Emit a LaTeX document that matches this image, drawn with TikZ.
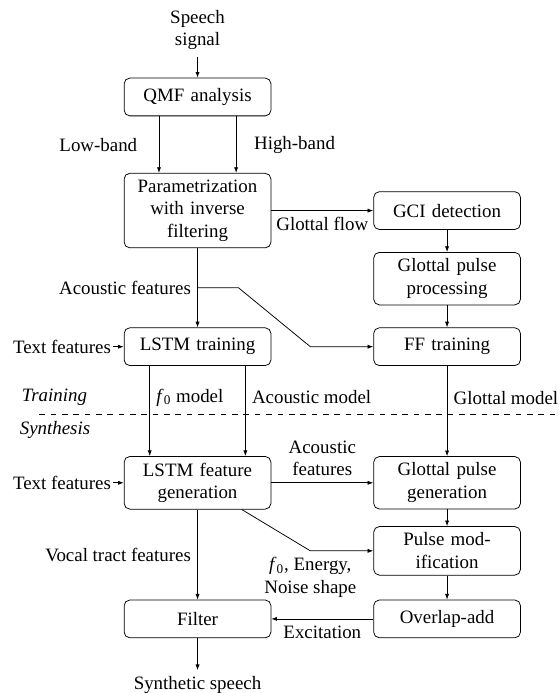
\documentclass[tikz,border=0pt]{standalone}
\usepackage{fontspec}
\setmainfont{Liberation Serif}
\usetikzlibrary{positioning,arrows.meta}

\begin{document}
\begin{tikzpicture}[node distance=72pt and 132pt, on grid, >={Latex[length=3pt,width=2.2pt]},
  block/.style = {draw, rounded corners=3pt, text width=71pt, align=center, minimum height=20pt},
  lbl/.style = {align=center},
  stage/.style = {font=\itshape}]
\useasboundingbox (-104.5pt,51.3pt) rectangle (191.3pt,-315.3pt);
\node[block] (qmf) at (0,0) {QMF analysis};
\node[lbl] (speech) [above=35.4pt of qmf] {Speech\\signal};
\node[block] (param) [below=60.1pt of qmf] {Parametrization\\with inverse\\filtering};
\node[block] (gci) [right=of param] {GCI detection};
\node[block] (gpp) [below=36pt of gci] {Glottal pulse\\processing};
\node[block] (lstmt) [below=of param] {LSTM training};
\node[block] (ff) [right=of lstmt] {FF training};
\node[block] (lstmg) [below=of lstmt] {LSTM feature\\generation};
\node[block] (gpg) [right=of lstmg] {Glottal pulse\\generation};
\node[block] (pmod) [below=36pt of gpg] {Pulse mod-\\ification};
\node[block] (filt) [below=of lstmg] {Filter};
\node[block] (ola) [right=of filt] {Overlap-add};
\node[lbl] (synth) [below=35.2pt of filt] {Synthetic speech};
\node[lbl, inner sep=1pt] (tft) [left=71.7pt of lstmt] {Text features};
\node[lbl, inner sep=1pt] (tfg) [left=71.7pt of lstmg] {Text features};

% training / synthesis border
\coordinate[below left=36pt and 83.7pt of lstmt] (sepL);
\coordinate[right=275pt of sepL] (sepR);
\draw[dashed] (sepL) -- (sepR);
\node[stage] (trn) at ([shift={(8pt,9.3pt)}]sepL) {Training};
\node[stage] (syn) at ([shift={(8.3pt,-7.9pt)}]sepL) {Synthesis};

\draw[->] (speech) -- (qmf);
\draw[->] ([xshift=-20.4pt]qmf.south) -- node[left=8pt] {Low-band} ([xshift=-20.4pt]param.north);
\draw[->] ([xshift=20.4pt]qmf.south) -- node[right=6pt] {High-band} ([xshift=20.4pt]param.north);
\draw[->] (param) -- node[below] {Glottal flow} (gci);
\draw[->] (gci) -- (gpp);
\draw[->] (gpp) -- (ff);
\draw[->] (param.south) -- coordinate[pos=.5] (af) (lstmt.north);
\node[left] (aflbl) at (af) {Acoustic features};
\coordinate[left=33.3pt of ff.west] (ffin);
\draw[->] (af) -- ++(21.7pt,0) -- (ffin) -- (ff.west);
\draw[->] (tft) -- (lstmt);
\draw[->] (tfg) -- (lstmg);
\draw[->] ([xshift=-25.3pt]lstmt.south) -- node[pos=.35, right] {\textit{f}\textsubscript{0} model} ([xshift=-25.3pt]lstmg.north);
\draw[->] ([xshift=25.3pt]lstmt.south) -- node[pos=.35, right] {Acoustic model} ([xshift=25.3pt]lstmg.north);
\draw[->] (ff) -- node[pos=.35, right] {Glottal model} (gpg);
\draw[->] (lstmg) -- node[lbl, above] {Acoustic\\features} (gpg);
\draw[->] (gpg) -- (pmod);
\draw[->] (pmod) -- (ola);
\coordinate[left=33.3pt of pmod.west] (pmin);
\draw[->] ([xshift=23.4pt]lstmg.south) -- (pmin) -- (pmod.west);
\node[lbl, below] (f0lbl) at (pmin) {\textit{f}\textsubscript{0}, Energy,\\Noise shape};
\draw[->] (lstmg) -- node[left] {Vocal tract features} (filt);
\draw[->] (ola) -- node[below] {Excitation} (filt);
\draw[->] (filt) -- (synth);
\end{tikzpicture}
\end{document}
